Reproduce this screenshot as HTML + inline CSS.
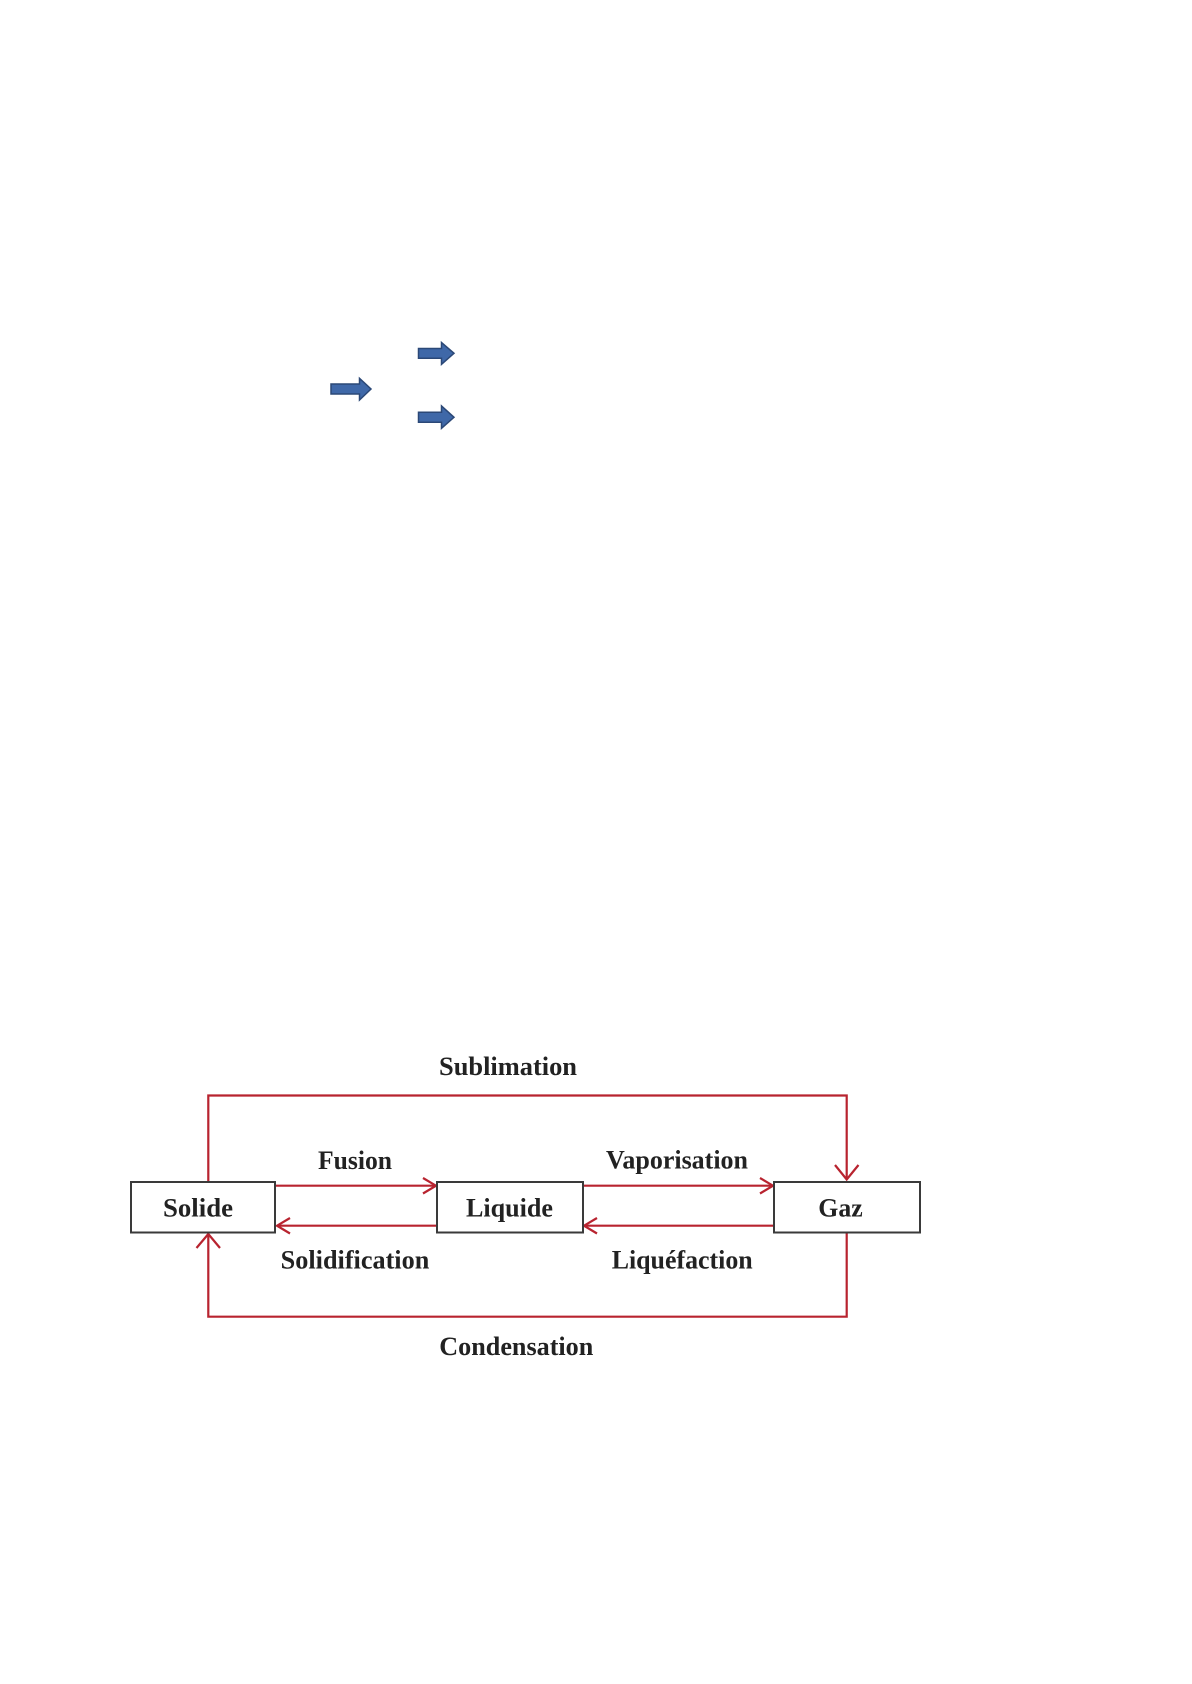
<!DOCTYPE html>
<html><head><meta charset="utf-8"><style>
html,body{margin:0;padding:0;background:#fff;}
svg{display:block;}
text{font-family:"Liberation Serif",serif;font-weight:bold;fill:#222;}
</style></head><body>
<svg width="1192" height="1684" viewBox="0 0 1192 1684" xmlns="http://www.w3.org/2000/svg">
<rect width="1192" height="1684" fill="#fff"/>
<!-- blue arrows -->
<g fill="#3f68a8" stroke="#2b4877" stroke-width="1.5" stroke-linejoin="miter">
<polygon points="418.5,348.5 441.5,348.5 441.5,342.5 454,353.3 441.5,364.3 441.5,358.3 418.5,358.3"/>
<polygon points="331,384 359.5,384 359.5,378.3 371,389 359.5,400 359.5,394 331,394"/>
<polygon points="418.5,412.3 441.5,412.3 441.5,406 454,417.3 441.5,428.3 441.5,422.3 418.5,422.3"/>
</g>
<!-- red connectors -->
<g stroke="#b8232f" stroke-width="2.2" fill="none">
<polyline points="208.3,1181 208.3,1095.5 846.7,1095.5 846.7,1179"/>
<polyline points="846.7,1233 846.7,1316.7 208.3,1316.7 208.3,1235"/>
<line x1="276" y1="1185.7" x2="436" y2="1185.7"/>
<line x1="436" y1="1225.7" x2="277" y2="1225.7"/>
<line x1="583" y1="1185.7" x2="773" y2="1185.7"/>
<line x1="773" y1="1225.7" x2="584" y2="1225.7"/>
<polyline points="835,1165 846.7,1179.5 858.5,1165"/>
<polyline points="196.5,1248 208.3,1234 220,1248"/>
<polyline points="423,1178 436,1185.7 423,1193.5"/>
<polyline points="290,1218 277,1225.7 290,1233.5"/>
<polyline points="760,1178 773,1185.7 760,1193.5"/>
<polyline points="597,1218 584,1225.7 597,1233.5"/>
</g>
<!-- boxes -->
<g fill="#fff" stroke="#3a3a3a" stroke-width="2">
<rect x="131" y="1182" width="144" height="50.5"/>
<rect x="437" y="1182" width="146" height="50.5"/>
<rect x="774" y="1182" width="146" height="50.5"/>
</g>
<!-- labels -->
<g font-size="26">
<text x="439" y="1075" textLength="138" lengthAdjust="spacingAndGlyphs">Sublimation</text>
<text x="318" y="1169" textLength="74" lengthAdjust="spacingAndGlyphs">Fusion</text>
<text x="606" y="1168.5" textLength="142" lengthAdjust="spacingAndGlyphs">Vaporisation</text>
<text x="163" y="1216.7" textLength="70" lengthAdjust="spacingAndGlyphs">Solide</text>
<text x="466" y="1216.7" textLength="87" lengthAdjust="spacingAndGlyphs">Liquide</text>
<text x="818.3" y="1216.7" textLength="44.4" lengthAdjust="spacingAndGlyphs">Gaz</text>
<text x="280.7" y="1268.3" textLength="148.6" lengthAdjust="spacingAndGlyphs">Solidification</text>
<text x="611.7" y="1268.3" textLength="141" lengthAdjust="spacingAndGlyphs">Liquéfaction</text>
<text x="439.3" y="1355" textLength="154" lengthAdjust="spacingAndGlyphs">Condensation</text>
</g>
</svg>
</body></html>
